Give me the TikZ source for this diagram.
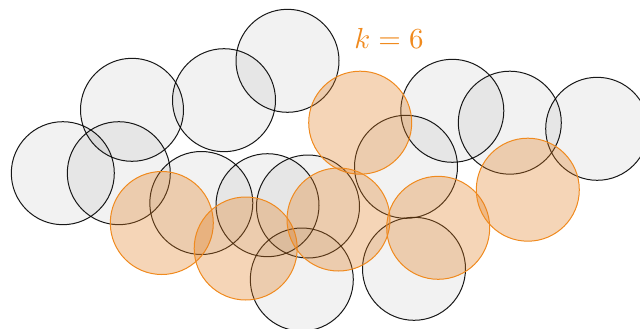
\documentclass[tikz,border=0pt]{standalone}
\definecolor{orline}{RGB}{240,138,30}
\definecolor{orfill}{RGB}{225,125,30}
\begin{document}
\begin{tikzpicture}[x=1pt,y=-1pt,
  gcirc/.style={circle,draw=black,line width=1pt,fill=black,fill opacity=0.05,draw opacity=0.9,minimum size=103pt,inner sep=0pt},
  ocirc/.style={circle,draw=orline,line width=1pt,fill=orfill,fill opacity=0.32,minimum size=103pt,inner sep=0pt}]
\useasboundingbox (0,0) rectangle (640,329);
\node[gcirc] (g1) at (62.8,173.2) {};
\node[gcirc] (g2) at (132,109.8) {};
\node[gcirc] (g3) at (118.8,173.2) {};
\node[gcirc] (g4) at (224,100.2) {};
\node[gcirc] (g5) at (287.5,60.8) {};
\node[gcirc] (g6) at (201.3,203) {};
\node[gcirc] (g7) at (267.5,205.2) {};
\node[gcirc] (g8) at (308,206.5) {};
\node[gcirc] (g9) at (301.8,279.5) {};
\node[gcirc] (g10) at (452.3,110.8) {};
\node[gcirc] (g11) at (509.8,122.7) {};
\node[gcirc] (g12) at (597.2,128.8) {};
\node[gcirc] (g13) at (406,166.8) {};
\node[gcirc] (g14) at (414,268.8) {};
\node[ocirc] (o1) at (161.8,223) {};
\node[ocirc] (o2) at (245.7,248.5) {};
\node[ocirc] (o3) at (360.2,122.7) {};
\node[ocirc] (o4) at (338.5,219.5) {};
\node[ocirc] (o5) at (438.2,227.8) {};
\node[ocirc] (o6) at (527.8,189.7) {};
\node[text=orline,inner sep=0pt,scale=2.9] (lbl) at (389,38) {$k=6$};
\end{tikzpicture}
\end{document}
